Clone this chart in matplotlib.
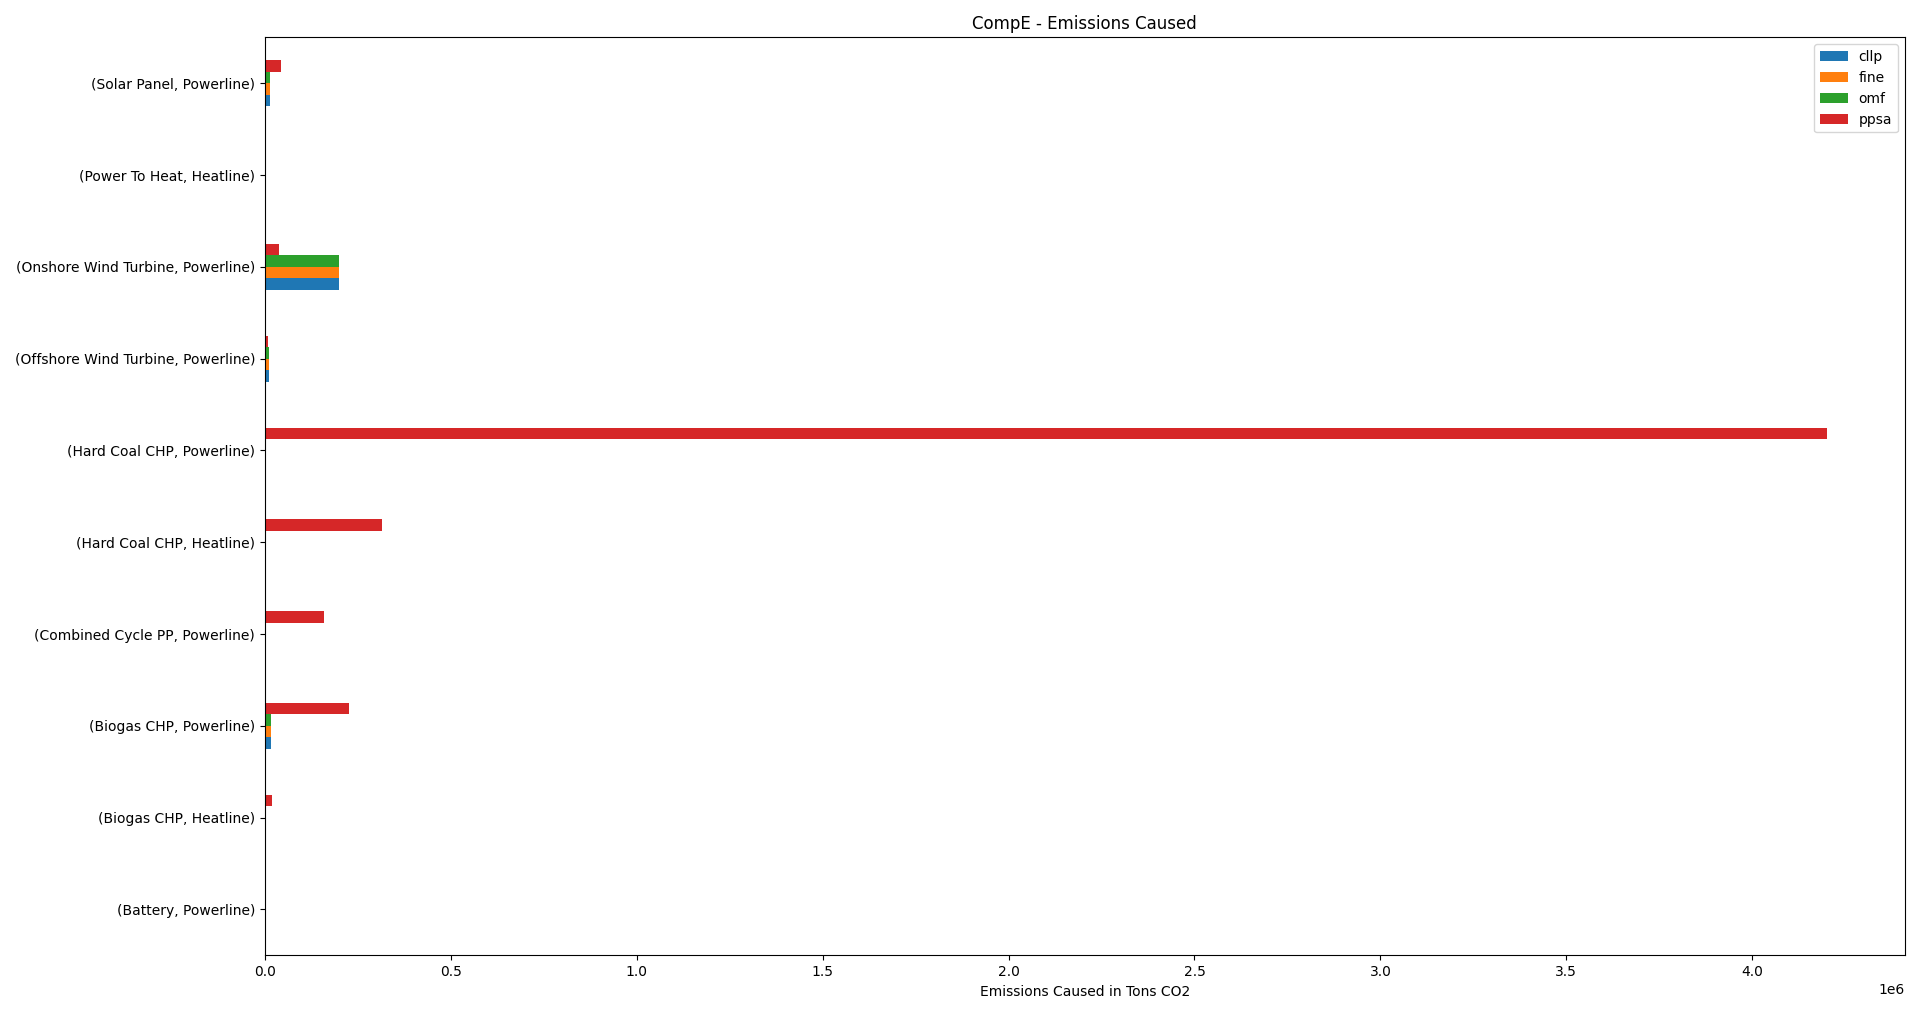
import pandas as pd
import matplotlib
matplotlib.use("Agg")
import matplotlib.pyplot as plt

# categories (bottom to top as drawn)
components = [
    "(Battery, Powerline)",
    "(Biogas CHP, Heatline)",
    "(Biogas CHP, Powerline)",
    "(Combined Cycle PP, Powerline)",
    "(Hard Coal CHP, Heatline)",
    "(Hard Coal CHP, Powerline)",
    "(Offshore Wind Turbine, Powerline)",
    "(Onshore Wind Turbine, Powerline)",
    "(Power To Heat, Heatline)",
    "(Solar Panel, Powerline)",
]

# emissions caused in tons CO2
cllp = [4000, 0, 17000, 3000, 0, 0, 10000, 200000, 0, 14000]
fine = [4000, 0, 15000, 3000, 0, 0, 10000, 200000, 0, 14000]
omf = [4000, 0, 15000, 3000, 0, 0, 10000, 200000, 0, 14000]
ppsa = [500, 20000, 225000, 160000, 315000, 4200000, 7000, 39000, 0, 42000]

df = pd.DataFrame({"cllp": cllp, "fine": fine, "omf": omf, "ppsa": ppsa},
                  index=components)

fig, ax = plt.subplots(figsize=(19.2, 10.13), dpi=100)
df.plot.barh(ax=ax)
ax.set_title("CompE - Emissions Caused")
ax.set_xlabel("Emissions Caused in Tons CO2")
ax.legend(loc="upper right")
fig.subplots_adjust(left=0.138, right=0.992, top=0.963, bottom=0.057)
fig.savefig("out.png")
